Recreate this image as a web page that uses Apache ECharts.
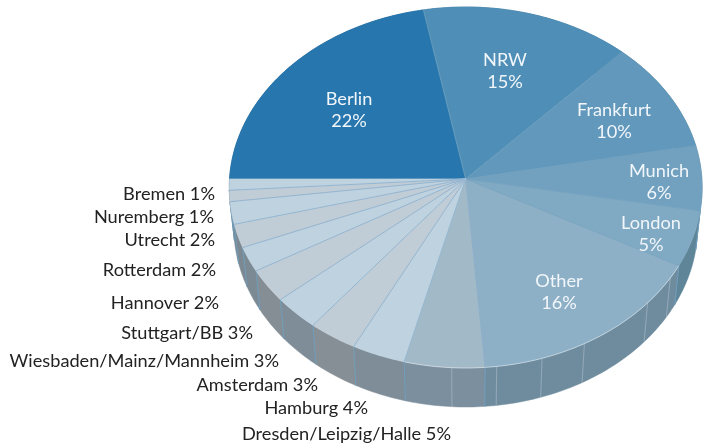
<!DOCTYPE html>
<html>
<head>
<meta charset="utf-8">
<style>html,body{margin:0;padding:0;background:#fff}#chart{width:710px;height:445px}</style>
<script src="https://cdn.jsdelivr.net/npm/echarts@6/dist/echarts.min.js"></script>
</head>
<body>
<div id="chart"></div>
<script>
const categories = ["Berlin", "NRW", "Frankfurt", "Munich", "London", "Other", "Dresden/Leipzig/Halle", "Hamburg", "Amsterdam", "Wiesbaden/Mainz/Mannheim", "Stuttgart/BB", "Hannover", "Rotterdam", "Utrecht", "Nuremberg", "Bremen"];
const shares = [22, 15, 10, 5.8, 5, 15.95, 5.25, 3.5, 3.2, 3.05, 2.95, 2.2, 2.1, 2, 1, 1];

const topColors = ["#2776ae", "#4f8fb7", "#6198bb", "#72a1c0", "#80a9c3", "#8eb0c6", "#a2b9c8", "#bed2e0", "#c0cdd7", "#bed2e0", "#c0cdd7", "#bed2e0", "#c0cdd7", "#bed2e0", "#c0cdd7", "#bed2e0"];
const wallColors = ["#1f5f8c", "#3f7393", "#4e7a96", "#5b819a", "#5f8599", "#6f8c9f", "#7b8f9e", "#7f8d98", "#868f95", "#7f8d98", "#848e94", "#7c8a94", "#7c8992", "#788791", "#76858f", "#76858f"];
// extra joints of the side wall, in % around the pie
const wallSeams = [59, 61.6, 67, 70, 73, 75.9];

// label layout [x, y, align], separate from the data
const labelLayout = [
  [349, 110, "center"], [505, 71, "center"], [614, 121, "center"], [659, 182, "center"],
  [651, 234, "center"], [559, 292, "center"],
  [451, 434, "right"], [368, 408, "right"], [318, 385, "right"], [279, 361, "right"],
  [253, 333, "right"], [219, 303, "right"], [216, 270, "right"], [215, 240, "right"],
  [214, 217, "right"], [215, 194, "right"]
];

const FONT = "Lato";
const cumul = [0];
shares.forEach(function (v) { cumul.push(cumul[cumul.length - 1] + v); });

// pie seen in perspective: circle projected onto the screen
function project(pct, apexY, b) {
  const t = (270 + 3.6 * pct) * Math.PI / 180;
  const u = Math.sin(t), v = -Math.cos(t);
  const den = 1 - 0.047 * v;
  return [465.7 + b * u / den, apexY + 180.1 * v / den];
}
const topPt = function (p) { return project(p, 179, 236.2); };
const lowPt = function (p) { return project(p, 218, 231.7); };

function arc(fn, a, b) {
  const pts = [];
  const n = Math.max(2, Math.ceil((b - a) * 4));
  for (let i = 0; i <= n; i++) pts.push(fn(a + (b - a) * i / n));
  return pts;
}

function renderWall(params, api) {
  const i = params.dataIndex;
  const a = cumul[i], b = a + api.value(0);
  const pts = arc(topPt, a, b).concat(arc(lowPt, a, b).reverse());
  return {
    type: "group",
    children: [
      { type: "polygon", shape: { points: pts }, style: { fill: wallColors[i], stroke: wallColors[i], lineWidth: 0.5 } },
      { type: "line", shape: { x1: topPt(a)[0], y1: topPt(a)[1], x2: lowPt(a)[0], y2: lowPt(a)[1] }, style: { stroke: "#6e9cba", lineWidth: 1 } }
    ]
  };
}

function renderSeam(params, api) {
  const p = api.value(0);
  const s = topPt(p), e = lowPt(p);
  return { type: "line", shape: { x1: s[0], y1: s[1], x2: e[0], y2: e[1] }, style: { stroke: "#a9bac6", lineWidth: 0.8, opacity: 0.8 } };
}

function renderFace(params, api) {
  const i = params.dataIndex;
  const a = cumul[i], b = a + api.value(0);
  const apex = [465.7, 179];
  const pct = Math.round(api.value(0));
  const pos = labelLayout[i];
  const inside = pos[2] === "center";
  const children = [
    { type: "polygon", shape: { points: [apex].concat(arc(topPt, a, b)) }, style: { fill: topColors[i], stroke: topColors[i], lineWidth: 0.5 } },
    { type: "line", shape: { x1: apex[0], y1: apex[1], x2: topPt(a)[0], y2: topPt(a)[1] }, style: { stroke: i > 5 ? "#7fa8c8" : "#6f9dbc", lineWidth: 0.7 } },
    {
      type: "text", z2: 10,
      style: {
        x: pos[0], y: pos[1],
        text: inside ? categories[i] + "\n" + pct + "%" : categories[i] + " " + pct + "%",
        fill: inside ? "#f1f6fa" : "#222222",
        font: "18.2px " + FONT,
        lineHeight: 22,
        align: pos[2], verticalAlign: "middle"
      }
    }
  ];
  // pale highlight along the front rim
  if (i === 5 || i === 6) {
    children.push({ type: "polyline", shape: { points: arc(topPt, a, b) }, style: { stroke: "rgba(255,255,255,0.55)", lineWidth: 0.8, fill: null } });
  }
  return { type: "group", children: children };
}

const chart = echarts.init(document.getElementById("chart"));
chart.setOption({
  animation: false,
  series: [
    { type: "custom", name: "wall", coordinateSystem: "none", z: 1, renderItem: renderWall, data: shares.map(function (v) { return [v]; }), silent: true },
    { type: "custom", name: "seams", coordinateSystem: "none", z: 2, renderItem: renderSeam, data: wallSeams.map(function (v) { return [v]; }), silent: true },
    { type: "custom", name: "share", coordinateSystem: "none", z: 3, renderItem: renderFace, data: shares.map(function (v) { return [v]; }) }
  ]
});
</script>
</body>
</html>
